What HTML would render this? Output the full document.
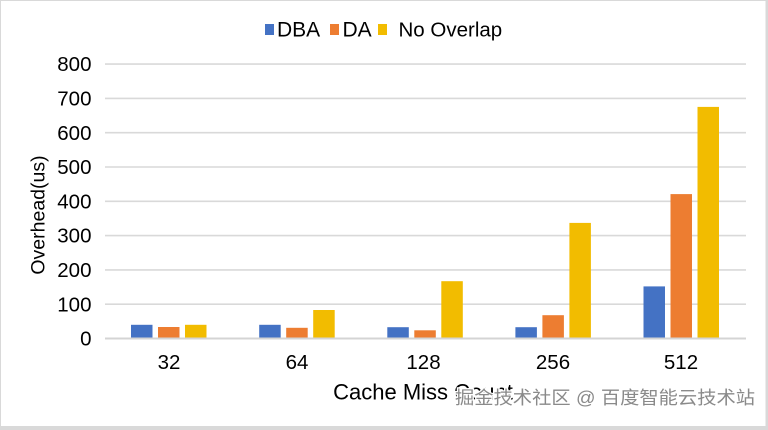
<!DOCTYPE html>
<html>
<head>
<meta charset="utf-8">
<style>
  html,body{margin:0;padding:0;background:#fff;}
  svg{display:block;}
  text{font-family:"Liberation Sans", Arial, sans-serif; fill:#000;}
</style>
</head>
<body>
<svg width="768" height="430" viewBox="0 0 768 430" xmlns="http://www.w3.org/2000/svg">
  <!-- border -->
  <rect x="0" y="0" width="768" height="430" fill="#d9d9d9"/>
  <rect x="1" y="1" width="764.5" height="425" fill="#ffffff"/>

  <!-- legend -->
  <rect x="265" y="24" width="9" height="11" fill="#4472C4"/>
  <text x="277" y="36.5" font-size="21">DBA</text>
  <rect x="330" y="24" width="9" height="11" fill="#ED7D31"/>
  <text x="342.5" y="36.5" font-size="21">DA</text>
  <rect x="378" y="24" width="9" height="11" fill="#F2BC00"/>
  <text x="398.5" y="36.5" font-size="20.5">No Overlap</text>

  <!-- gridlines -->
  <g stroke="#d9d9d9" stroke-width="1.6">
    <line x1="105" x2="746" y1="64.1" y2="64.1"/>
    <line x1="105" x2="746" y1="98.4" y2="98.4"/>
    <line x1="105" x2="746" y1="132.7" y2="132.7"/>
    <line x1="105" x2="746" y1="167.0" y2="167.0"/>
    <line x1="105" x2="746" y1="201.3" y2="201.3"/>
    <line x1="105" x2="746" y1="235.6" y2="235.6"/>
    <line x1="105" x2="746" y1="269.9" y2="269.9"/>
    <line x1="105" x2="746" y1="304.2" y2="304.2"/>
  </g>

  <!-- y tick labels -->
  <g font-size="20.5" text-anchor="end">
    <text x="91.5" y="71.2">800</text>
    <text x="91.5" y="105.5">700</text>
    <text x="91.5" y="139.8">600</text>
    <text x="91.5" y="174.1">500</text>
    <text x="91.5" y="208.4">400</text>
    <text x="91.5" y="242.7">300</text>
    <text x="91.5" y="277.0">200</text>
    <text x="91.5" y="311.3">100</text>
    <text x="91.5" y="345.6">0</text>
  </g>

  <!-- bars -->
  <rect x="131" y="324.8" width="21.5" height="13.7" fill="#4472C4"/>
  <rect x="158" y="327.0" width="21.5" height="11.5" fill="#ED7D31"/>
  <rect x="185" y="324.8" width="21.5" height="13.7" fill="#F2BC00"/>

  <rect x="259.2" y="324.8" width="21.5" height="13.7" fill="#4472C4"/>
  <rect x="286.2" y="327.8" width="21.5" height="10.7" fill="#ED7D31"/>
  <rect x="313.2" y="310.0" width="21.5" height="28.5" fill="#F2BC00"/>

  <rect x="387.3" y="327.2" width="21.5" height="11.3" fill="#4472C4"/>
  <rect x="414.3" y="330.3" width="21.5" height="8.2" fill="#ED7D31"/>
  <rect x="441.3" y="281.2" width="21.5" height="57.3" fill="#F2BC00"/>

  <rect x="515.4" y="327.2" width="21.5" height="11.3" fill="#4472C4"/>
  <rect x="542.4" y="315.2" width="21.5" height="23.3" fill="#ED7D31"/>
  <rect x="569.4" y="222.9" width="21.5" height="115.6" fill="#F2BC00"/>

  <rect x="643.5" y="286.4" width="21.5" height="52.1" fill="#4472C4"/>
  <rect x="670.5" y="194.1" width="21.5" height="144.4" fill="#ED7D31"/>
  <rect x="697.5" y="106.9" width="21.5" height="231.6" fill="#F2BC00"/>

  <!-- baseline -->
  <line x1="105" x2="746" y1="338.5" y2="338.5" stroke="#d4d4d4" stroke-width="2"/>

  <!-- x tick labels -->
  <g font-size="20.5" text-anchor="middle">
    <text x="169" y="368.8">32</text>
    <text x="297" y="368.8">64</text>
    <text x="423.5" y="368.8">128</text>
    <text x="553" y="368.8">256</text>
    <text x="681" y="368.8">512</text>
  </g>

  <!-- axis titles -->
  <text x="423" y="399.5" font-size="22" text-anchor="middle">Cache Miss Count</text>
  <text transform="translate(44.5,215) rotate(-90)" x="0" y="0" font-size="19.5" text-anchor="middle">Overhead(us)</text>

  <!-- watermark -->
  <text x="455" y="404" font-size="18" textLength="300" lengthAdjust="spacingAndGlyphs"
        style="font-family:'Liberation Sans','Noto Sans CJK SC',sans-serif;fill:#8a8a8a;stroke:#ffffff;stroke-width:2.5;paint-order:stroke;">掘金技术社区 @ 百度智能云技术站</text>
</svg>
</body>
</html>
